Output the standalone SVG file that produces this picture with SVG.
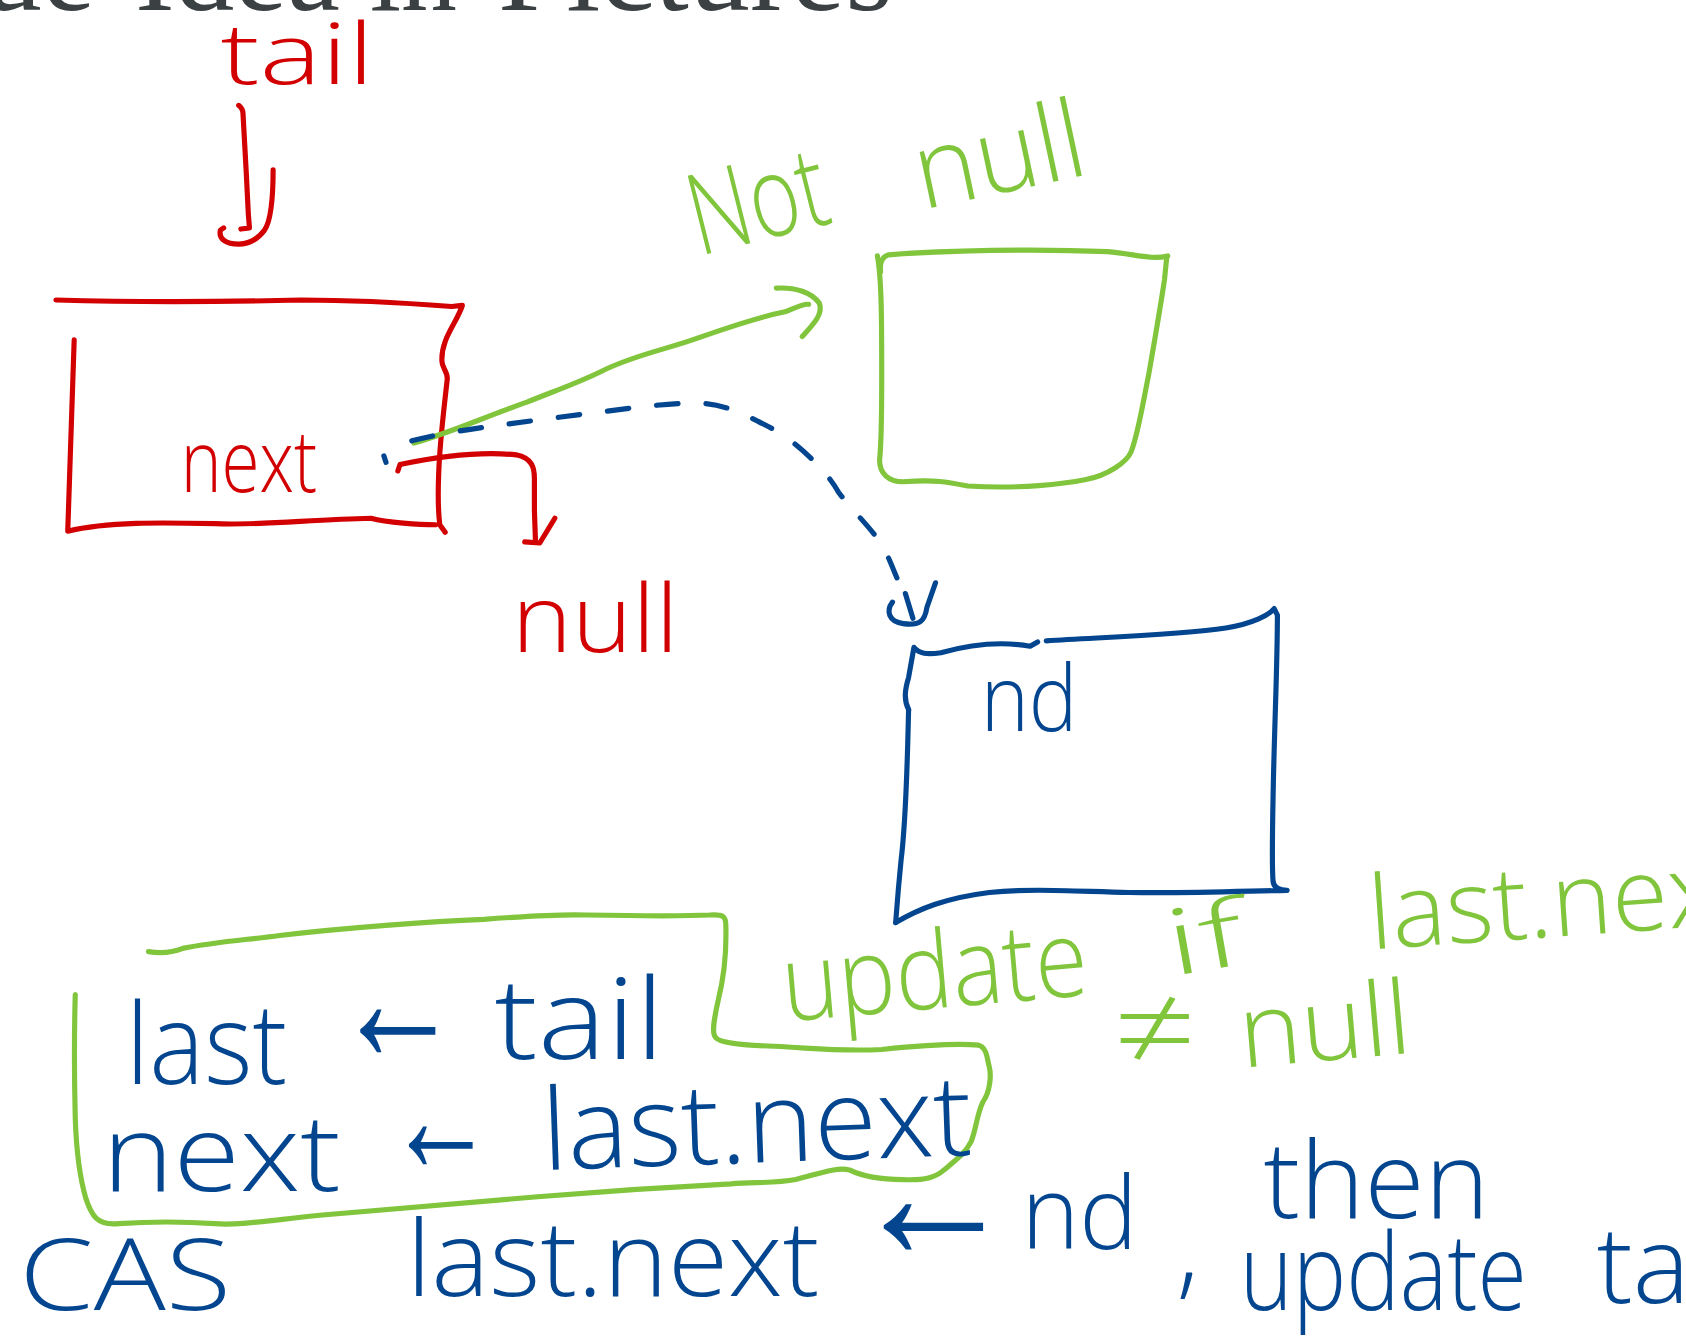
<svg xmlns="http://www.w3.org/2000/svg" width="1686" height="1342" viewBox="0 0 1686 1342">
  <style>
    .ink { fill: none; stroke-width: 4.8; stroke-linecap: round; stroke-linejoin: round; }
    .red { stroke: #d20000; }
    .green { stroke: #80c53c; }
    .blue { stroke: #03468f; }
    .dash { stroke-dasharray: 20 26; }
    .hw { font-family: "Open Sans", "Liberation Sans", "DejaVu Sans", sans-serif; font-weight: 300; }
    .tr { fill: #d20000; }
    .tg { fill: #80c53c; }
    .tb { fill: #03468f; }
    .title { font-family: "Liberation Serif", "DejaVu Serif", serif; font-size: 120px; fill: #3b4143; }
  </style>

  <rect width="1686" height="1342" fill="#ffffff"/>

  <!-- slide heading, mostly above the top edge -->
  <text class="title" y="10">
    <tspan x="-18">ue</tspan>
    <tspan x="135" textLength="205" lengthAdjust="spacingAndGlyphs">Idea</tspan>
    <tspan x="370" textLength="87" lengthAdjust="spacingAndGlyphs">in</tspan>
    <tspan x="498" textLength="395" lengthAdjust="spacingAndGlyphs">Pictures</tspan>
  </text>

  <g transform="scale(1.07526)">

    <!-- tail pointer label -->
    <g id="label-tail">
      <text class="hw tr" x="205" y="78" font-size="78" textLength="143" lengthAdjust="spacingAndGlyphs">tail</text>
    </g>

    <!-- last node (red) -->
    <g id="node-last">
      <path class="ink red" d="M52,279 C120,281 200,281 280,279 C330,279 380,282 420,285 L430,284 C425,300 410,315 411,336 C411,342 416,345 416,352 C413,380 409,410 408,440 C407,465 408,480 409,488 L414,495"/>
      <path class="ink red" d="M69,316 C67,380 65,440 63,494 C100,485 150,486 200,487 C240,489 290,483 345,482 C360,486 390,488 405,488"/>
      <text class="hw tr" x="168" y="458" font-size="80" textLength="127" lengthAdjust="spacingAndGlyphs">next</text>
    </g>

    <!-- null target of last.next -->
    <g id="label-null">
      <text class="hw tr" x="476" y="606" font-size="88" textLength="155" lengthAdjust="spacingAndGlyphs">null</text>
    </g>

    <!-- other node (green) -->
    <g id="node-not-null">
      <path class="ink green" d="M819,253 C818,245 820,239 826,237 C880,233 960,231 1030,234 C1055,236 1070,242 1086,238"/>
      <path class="ink green" d="M816,238 C820,260 820,300 820,350 C820,390 820,410 818,428 C818,440 826,448 840,448 C870,446 880,448 900,452 C950,455 990,450 1010,446 C1030,442 1048,430 1052,420 C1058,405 1062,380 1068,350 C1075,310 1080,280 1083,260 L1085,240"/>
      <text class="hw tg" x="650" y="238" font-size="105" textLength="130" lengthAdjust="spacingAndGlyphs" transform="rotate(-14 650 238)">Not</text>
      <text class="hw tg" x="858" y="195" font-size="100" textLength="160" lengthAdjust="spacingAndGlyphs" transform="rotate(-12 858 195)">null</text>
    </g>

    <!-- new node nd (blue) -->
    <g id="node-nd">
      <path class="ink blue" d="M845,660 C840,650 842,640 845,630 L850,602 C855,608 862,609 875,607 C900,600 930,596 958,601 L965,597"/>
      <path class="ink blue" d="M973,596 C1040,592 1100,590 1140,584 C1165,580 1180,572 1185,566 L1188,572 C1188,620 1185,680 1184,740 C1183,790 1183,810 1184,820 C1185,826 1190,828 1197,828 C1150,829 1100,831 1050,830 C1000,829 960,826 920,830 C880,835 855,845 833,858"/>
      <path class="ink blue" d="M845,660 C844,700 843,760 838,800 C835,830 834,845 833,858"/>
      <text class="hw tb" x="912" y="680" font-size="85" textLength="90" lengthAdjust="spacingAndGlyphs">nd</text>
    </g>

    <!-- enqueue steps -->
    <g id="code-block">
      <path class="ink green" d="M138,885 C150,887 160,886 170,882 C200,876 230,874 260,870 C320,863 400,857 450,855 C490,852 520,850 545,851 C600,852 640,852 660,851 C672,850 675,852 675,860 C676,890 673,910 668,930 C664,948 662,960 665,964 C668,970 690,972 720,973 C760,975 780,978 820,976 C860,972 890,970 910,972 C918,974 918,985 920,992 C922,1000 921,1015 914,1025 C908,1038 908,1050 903,1062 C898,1072 890,1078 878,1088 C870,1095 860,1098 840,1097 C815,1097 800,1093 790,1088 C778,1085 760,1092 740,1097 C720,1101 700,1099 680,1101 C620,1104 560,1108 500,1113 C420,1120 360,1125 300,1130 C250,1135 220,1140 200,1138 C170,1136 140,1136 110,1138 C90,1140 85,1130 80,1115 C74,1095 71,1070 70,1040 C69,1000 69,960 70,925"/>
      <text class="hw tb" x="117" y="1008" font-size="105" textLength="150" lengthAdjust="spacingAndGlyphs">last</text>
      <text class="hw tb" x="311" y="987" font-size="170" textLength="118" lengthAdjust="spacingAndGlyphs">←</text>
      <text class="hw tb" x="460" y="985" font-size="105" textLength="158" lengthAdjust="spacingAndGlyphs">tail</text>
      <text class="hw tb" x="95" y="1108" font-size="100" textLength="222" lengthAdjust="spacingAndGlyphs">next</text>
      <text class="hw tb" x="360" y="1090" font-size="150" textLength="100" lengthAdjust="spacingAndGlyphs">←</text>
      <text class="hw tb" x="505" y="1088" font-size="105" textLength="400" lengthAdjust="spacingAndGlyphs" transform="rotate(-2 505 1088)">last.next</text>

      <text class="hw tg" x="730" y="950" font-size="100" textLength="285" lengthAdjust="spacingAndGlyphs" transform="rotate(-5 730 950)">update</text>
      <text class="hw tg" x="1090" y="908" font-size="85" textLength="72" lengthAdjust="spacingAndGlyphs" transform="rotate(-10 1090 908)">if</text>
      <text class="hw tg" x="1275" y="883" font-size="95" transform="rotate(-4 1275 883)">last.next</text>
      <text class="hw tg" x="1035" y="995" font-size="110" textLength="78" lengthAdjust="spacingAndGlyphs">≠</text>
      <text class="hw tg" x="1155" y="993" font-size="95" textLength="160" lengthAdjust="spacingAndGlyphs" transform="rotate(-5 1155 993)">null</text>

      <text class="hw tb" x="18" y="1218" font-size="92" textLength="197" lengthAdjust="spacingAndGlyphs">CAS</text>
      <text class="hw tb" x="378" y="1205" font-size="98" textLength="384" lengthAdjust="spacingAndGlyphs">last.next</text>
      <text class="hw tb" x="790" y="1171" font-size="180" textLength="156" lengthAdjust="spacingAndGlyphs">←</text>
      <text class="hw tb" x="950" y="1162" font-size="95" textLength="108" lengthAdjust="spacingAndGlyphs">nd</text>
      <text class="hw tb" x="1094" y="1195" font-size="100">,</text>
      <text class="hw tb" x="1175" y="1133" font-size="100" textLength="210" lengthAdjust="spacingAndGlyphs">then</text>
      <text class="hw tb" x="1153" y="1218" font-size="100" textLength="267" lengthAdjust="spacingAndGlyphs">update</text>
      <text class="hw tb" x="1485" y="1212" font-size="100">tail</text>
    </g>

    <!-- pointers -->
    <g id="connectors">
      <!-- tail -> last node -->
      <path class="ink red" d="M222,98 Q226,101 226,106 L229,160 L231,200 L232,212 L224,213"/>
      <path class="ink red" d="M254,158 C254,185 252,205 246,214 C240,222 233,227 222,227 C210,227 203,222 205,214 L208,212"/>
      <!-- last.next -> null -->
      <path class="ink red" d="M370,438 L372,432 C410,424 450,420 480,423 C495,426 497,435 497,445 L497,475 L498,503"/>
      <path class="ink red" d="M516,482 L502,505 L488,504"/>
      <!-- last.next -> other node -->
      <path class="ink green" d="M385,412 C420,402 450,388 490,374 C520,362 540,355 560,345 C590,330 620,325 650,314 C680,304 700,296 730,290 C740,286 748,282 752,283"/>
      <path class="ink green" d="M722,268 C740,267 755,272 762,282 C766,292 756,302 746,313"/>
      <!-- last.next -> nd (after CAS) -->
      <path class="ink blue" d="M357,424 L359,430"/>
      <path class="ink blue dash" d="M383,410 C420,400 470,395 520,388 C570,382 620,374 650,375 C680,376 700,390 725,402 C750,420 770,440 780,458 C795,478 810,490 822,510 C830,525 836,545 840,548"/>
      <path class="ink blue" d="M830,560 C824,568 826,578 840,580 C855,582 860,578 862,565 L870,542"/>
      <path class="ink blue" d="M842,552 L849,575"/>
    </g>
  </g>
</svg>
